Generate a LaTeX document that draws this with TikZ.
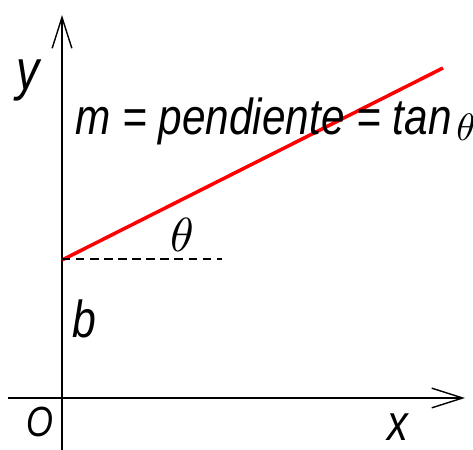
\documentclass[tikz,border=0pt]{standalone}
\usepackage{fontspec}
\setsansfont{Liberation Sans}
\DeclareFontShape{OML}{cmm}{m}{it}{<->cmmi10}{}
\usetikzlibrary{arrows.meta}

\begin{document}
\begin{tikzpicture}[
    axisarrow/.style={line width=1.4pt, -{Straight Barb[length=22pt,width=14pt,line width=1pt]}},
    lbl/.style={font=\sffamily\itshape, xscale=0.82, inner sep=0pt}]
            \useasboundingbox (0,0) rectangle (11.825,11.25);
            \draw[axisarrow] (0.2,1.3) -- (11.625,1.3);
            \draw[axisarrow] (1.55,0) -- (1.55,10.875);
            \draw[red, line width=2.5pt] (1.55,4.75) -- (11.075,9.55);
            \draw[dash pattern=on 6pt off 4pt, line width=1pt] (1.55,4.775) -- (5.55,4.775);
            \node[inner sep=0pt] (theta) at (4.55,5.375) {\fontsize{34}{40}\selectfont$\theta$};
            \node[lbl, xscale=1.02, anchor=base west] (slope) at (1.875,7.875) {\fontsize{36}{40}\selectfont m = pendiente = tan};
            \node[inner sep=0pt, anchor=base west, scale=0.8] (slopetheta) at ([xshift=3pt, yshift=-4pt]slope.base east) {\fontsize{34}{40}\selectfont$\theta$};
            \node[lbl] (ylbl) at (0.7,9.25) {\fontsize{40}{46}\selectfont y};
            \node[lbl] (blbl) at (2.1,3.275) {\fontsize{37}{40}\selectfont b};
            \node[lbl] (xlbl) at (9.95,0.58) {\fontsize{36}{42}\selectfont x};
            \node[lbl] (orig) at (1.0,0.7) {\fontsize{30}{34}\selectfont O};
        \end{tikzpicture}
\end{document}
